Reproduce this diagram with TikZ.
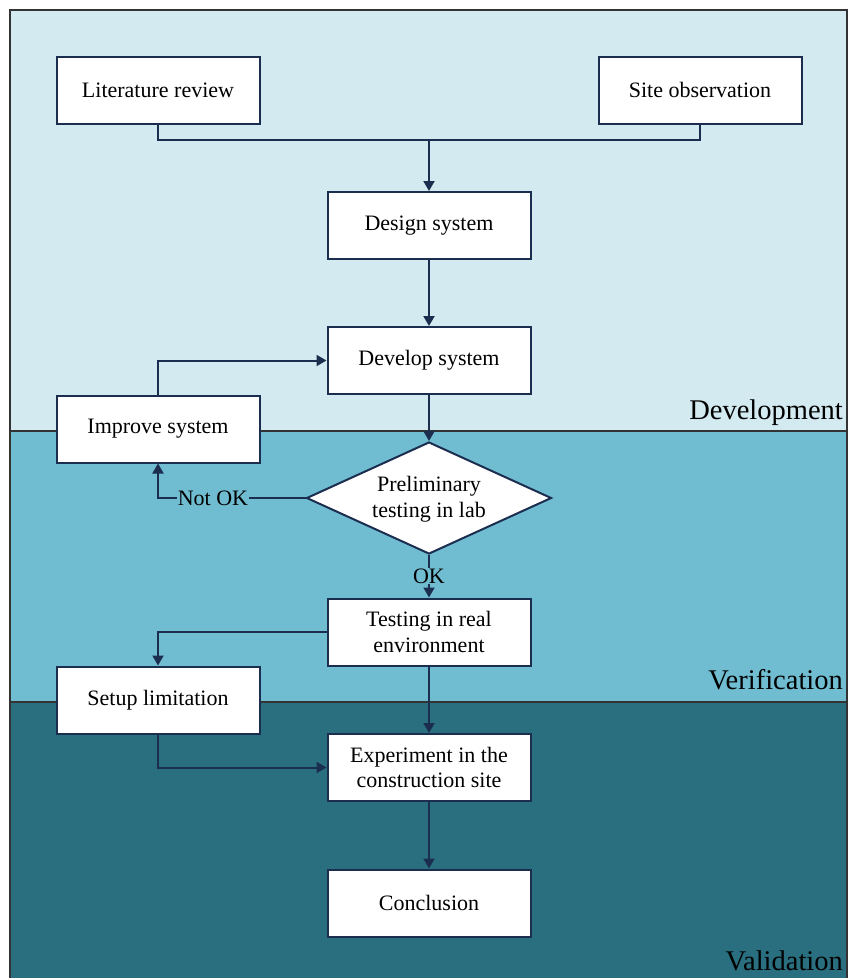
\documentclass[tikz,border=0pt]{standalone}
\usepackage{fontspec}
\setmainfont{Liberation Serif}
\usetikzlibrary{arrows.meta,shapes.geometric}
\definecolor{devcol}{HTML}{D2EAF0}
\definecolor{vercol}{HTML}{70BDD2}
\definecolor{valcol}{HTML}{2A6F80}
\definecolor{navy}{HTML}{1B2E4F}
\definecolor{framecol}{HTML}{333333}
\tikzset{
  stepbox/.style={draw=navy, fill=white, line width=2pt, minimum width=203pt, minimum height=67pt, align=center, inner sep=2pt, font=\fontsize{22}{25.5}\selectfont},
  conn/.style={draw=navy, line width=2pt},
  arr/.style={conn, -{Triangle[length=10pt,width=11pt]}},
  lbl/.style={font=\fontsize{22}{25.5}\selectfont, inner sep=1pt},
  band/.style={font=\fontsize{28.5}{32}\selectfont, anchor=base east, inner sep=0pt},
}
\begin{document}
\begin{tikzpicture}[x=1pt,y=-1pt]
\useasboundingbox (0,0) rectangle (848,978);
% bands
\fill[devcol] (10,10) rectangle (847,431);
\fill[vercol] (10,431) rectangle (847,702);
\fill[valcol] (10,702) rectangle (847,978);
\draw[framecol, line width=1.2pt] (10,978) -- (10,10) -- (847,10) -- (847,978);
\draw[framecol, line width=1.2pt] (10,431) -- (847,431);
\draw[framecol, line width=1.2pt] (10,702) -- (847,702);
\node[band] (tdev) at (843,419) {Development};
\node[band] (tver) at (843,689) {Verification};
\node[band] (tval) at (843,970) {Validation};
% boxes
\node[stepbox] (lit) at (158,90) {Literature review};
\node[stepbox] (site) at (700,90) {Site observation};
\node[stepbox] (design) at (429,225.5) {Design system};
\node[stepbox] (develop) at (429,360.5) {Develop system};
\node[stepbox] (improve) at (158,429) {Improve system};
\node[draw=navy, fill=white, line width=2pt, diamond, minimum width=245pt, minimum height=112pt, inner sep=0pt] (dia) at (429,498) {};
\node[lbl, align=center] (diatext) at (429,499) {Preliminary\\testing in lab};
\node[stepbox] (test) at (429,632) {Testing in real\\environment};
\node[stepbox] (setup) at (158,700) {Setup limitation};
\node[stepbox] (exp) at (429,767.5) {Experiment in the\\construction site};
\node[stepbox] (concl) at (429,903) {Conclusion};
\coordinate (join) at (429,140);
% connectors
\draw[conn] (lit.south) |- (join) -| (site.south);
\draw[arr] (join) -- (design.north);
\draw[arr] (design.south) -- (develop.north);
\draw[arr] (develop.south) -- (dia.north);
\draw[arr] (dia.west) -| (improve.south);
\node[lbl, fill=vercol] (notok) at (213,498) {Not OK};
\draw[arr] (improve.north) |- (develop.west);
\draw[arr] (dia.south) -- (test.north);
\node[lbl, fill=vercol] (ok) at (429,576) {OK};
\draw[arr] (test.west) -| (setup.north);
\draw[arr] (test.south) -- (exp.north);
\draw[arr] (setup.south) |- (exp.west);
\draw[arr] (exp.south) -- (concl.north);
\end{tikzpicture}
\end{document}
